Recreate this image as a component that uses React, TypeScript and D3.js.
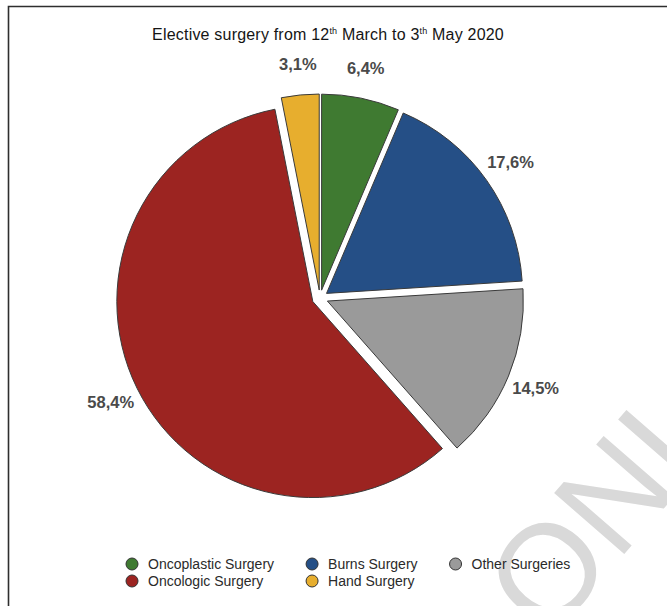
import React, { useEffect, useRef } from "react";
import * as d3 from "d3";

// Share of elective procedures by type (percent)
const categories = [
  "Oncoplastic Surgery",
  "Burns Surgery",
  "Other Surgeries",
  "Oncologic Surgery",
  "Hand Surgery",
];
const shares = [6.4, 17.6, 14.5, 58.4, 3.1];
const sliceColors = ["#3f7a31", "#254f86", "#9a9a9a", "#9c2421", "#e7ae2e"];

const titleParts = [
  { t: "Elective surgery from 12", sup: false },
  { t: "th", sup: true },
  { t: " March to 3", sup: false },
  { t: "th", sup: true },
  { t: " May 2020", sup: false },
];
const watermarkText = "ONLINE";

const W = 667;
const H = 606;
const FONT = "'Liberation Sans', Arial, Helvetica, sans-serif";

const fmtPct = (v: number) => d3.format(".1f")(v).replace(".", ",") + "%";

export default function App() {
  const ref = useRef<SVGSVGElement | null>(null);

  useEffect(() => {
    const svg = d3.select(ref.current);
    svg.selectAll("*").remove();

    // frame
    svg
      .append("path")
      .attr("d", `M8.5,${H + 2} L8.5,6.5 L${W + 2},6.5`)
      .attr("fill", "none")
      .attr("stroke", "#2e2e2e")
      .attr("stroke-width", 1.6);

    // title
    const title = svg
      .append("text")
      .attr("x", 328)
      .attr("y", 40)
      .attr("text-anchor", "middle")
      .attr("font-family", FONT)
      .attr("font-size", 16)
      .attr("letter-spacing", 0.2)
      .attr("fill", "#151515");
    titleParts.forEach((p, i) => {
      const ts = title.append("tspan").text(p.t);
      if (p.sup) ts.attr("font-size", 9).attr("dy", -6);
      else if (i > 0 && titleParts[i - 1].sup) ts.attr("dy", 6);
    });

    // pie
    const cx = 320;
    const cy = 298;
    const r = 196;
    const explode = 8;

    const pie = d3
      .pie<number>()
      .sort(null)
      .value((d) => d)
      .startAngle(0)
      .endAngle(2 * Math.PI);
    const arcs = pie(shares);
    const arc = d3.arc<d3.PieArcDatum<number>>().innerRadius(0).outerRadius(r);

    const g = svg.append("g").attr("transform", `translate(${cx},${cy})`);
    g.selectAll("path.slice")
      .data(arcs)
      .join("path")
      .attr("class", "slice")
      .attr("d", arc)
      .attr("transform", (d) => {
        const a = (d.startAngle + d.endAngle) / 2;
        return `translate(${Math.sin(a) * explode},${-Math.cos(a) * explode})`;
      })
      .attr("fill", (_d, i) => sliceColors[i])
      .attr("stroke", "#3a3a3a")
      .attr("stroke-width", 1)
      .attr("stroke-linejoin", "round");

    // value labels, placed just outside each slice along its bisector
    const rx = 210;
    const ry = 228;
    g.selectAll("text.val")
      .data(arcs)
      .join("text")
      .attr("class", "val")
      .attr("font-family", FONT)
      .attr("font-size", 16.5)
      .attr("font-weight", "bold")
      .attr("fill", "#4a4a4a")
      .attr("text-anchor", "middle")
      .attr("dominant-baseline", "central")
      .text((d) => fmtPct(d.data))
      .each(function (d) {
        const el = this as SVGTextElement;
        const w = el.getComputedTextLength();
        const h = 14;
        const a = (d.startAngle + d.endAngle) / 2;
        const x = Math.sin(a) * rx + (Math.sin(a) * w) / 2;
        const y = -Math.cos(a) * ry - (Math.cos(a) * h) / 2;
        d3.select(el).attr("x", x).attr("y", y);
      });

    // watermark
    const wm = svg
      .append("g")
      .attr("transform", "translate(546,570) rotate(-49)");
    wm.append("text")
      .attr("x", -0.39 * 135)
      .attr("y", 0.36 * 135)
      .attr("font-family", FONT)
      .attr("font-size", 135)
      .attr("fill", "#d9d9d9")
      .text(watermarkText);

    // legend: three items per row, flowing left to right
    const perRow = 3;
    const rowY = [564, 581];
    const startX = 132;
    const gap = 38;
    const legendFont = 14;
    const legend = svg.append("g");
    const colX: number[] = [startX];
    const colWidths: number[] = [];
    const measure = legend
      .append("text")
      .attr("font-family", FONT)
      .attr("font-size", legendFont);
    categories.forEach((c, i) => {
      measure.text(c);
      const w = (measure.node() as SVGTextElement).getComputedTextLength();
      const col = i % perRow;
      colWidths[col] = Math.max(colWidths[col] || 0, w);
    });
    measure.remove();
    for (let c = 1; c < perRow; c++) colX[c] = colX[c - 1] + 16 + colWidths[c - 1] + gap;

    categories.forEach((c, i) => {
      const col = i % perRow;
      const row = Math.floor(i / perRow);
      const item = legend.append("g").attr("transform", `translate(${colX[col]},${rowY[row]})`);
      item
        .append("circle")
        .attr("r", 6)
        .attr("fill", sliceColors[i])
        .attr("stroke", "#333")
        .attr("stroke-width", 1);
      item
        .append("text")
        .attr("x", 16)
        .attr("y", 0)
        .attr("dominant-baseline", "central")
        .attr("font-family", FONT)
        .attr("font-size", legendFont)
        .attr("fill", "#2a2a2a")
        .text(c);
    });
  }, []);

  return (
    <svg
      ref={ref}
      width={W}
      height={H}
      style={{ position: "absolute", left: 0, top: 0, background: "#fff", display: "block" }}
    />
  );
}
